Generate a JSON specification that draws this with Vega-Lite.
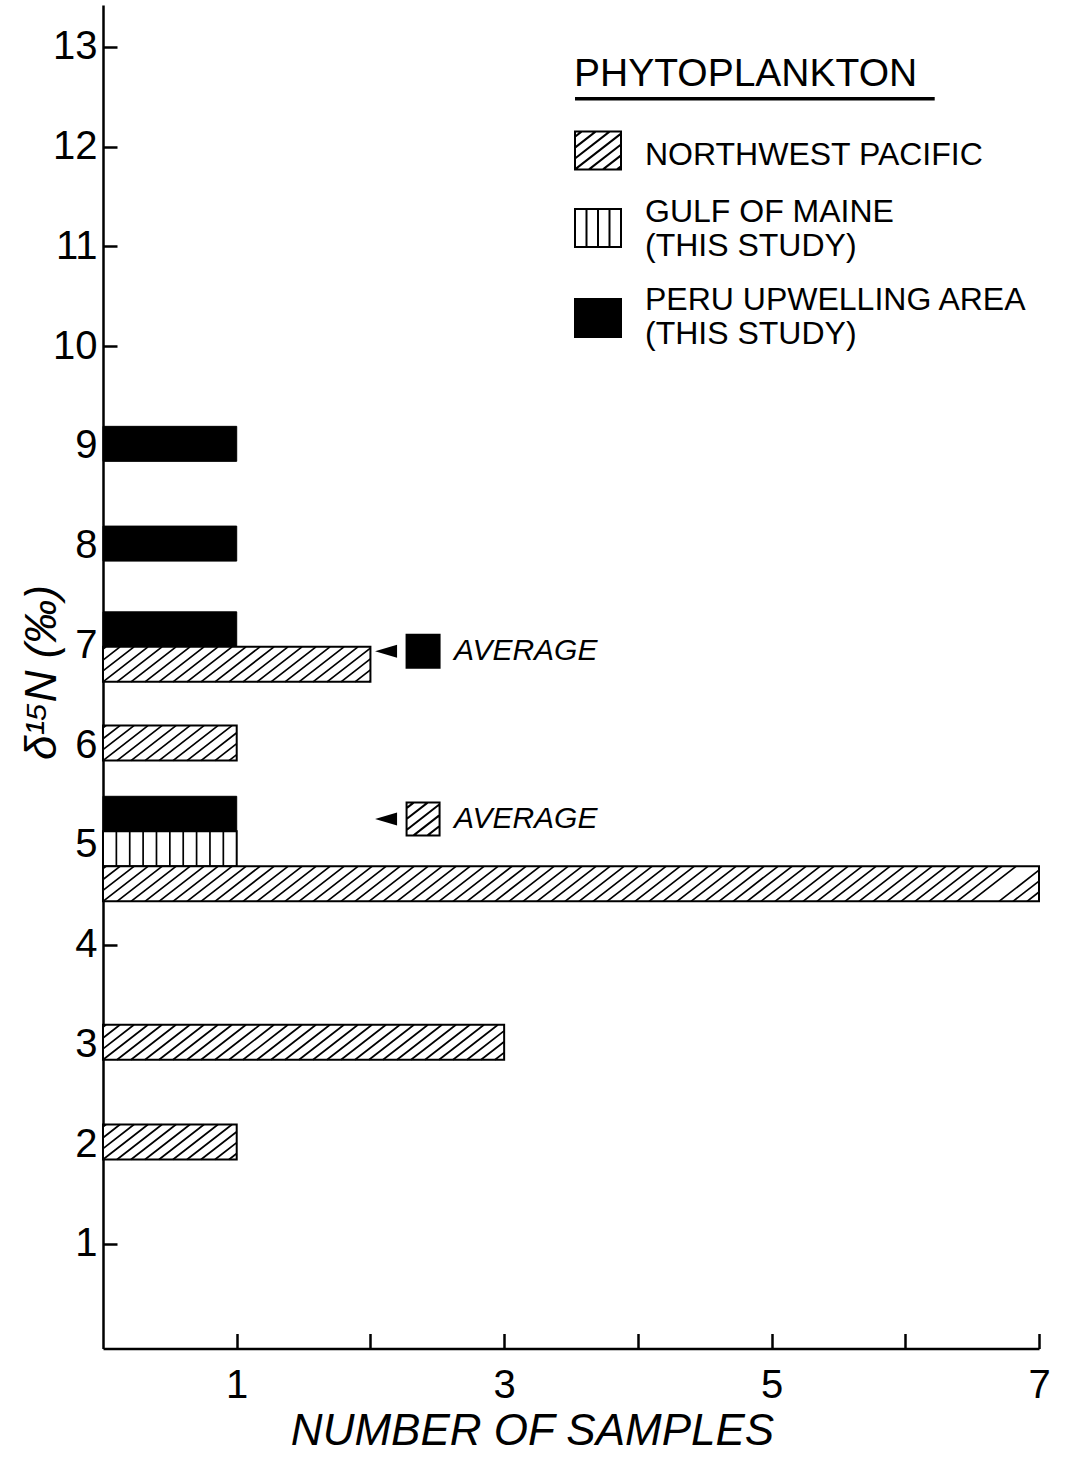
{
  "$schema": "https://vega.github.io/schema/vega-lite/v6.json",
  "width": 936,
  "height": 1343.5,
  "autosize": {"type": "none"},
  "padding": {"left": 103, "top": 5, "right": 28, "bottom": 108.5},
  "background": "white",
  "config": {
    "view": {"stroke": null},
    "font": "Liberation Sans",
    "axis": {"grid": false, "domainColor": "black", "tickColor": "black", "labelColor": "black", "titleColor": "black", "labelFont": "Liberation Sans", "titleFont": "Liberation Sans"},
    "legend": {"orient": "none", "legendX": 471, "legendY": 50, "direction": "vertical", "padding": 0,
      "titleFont": "Liberation Sans", "titleFontSize": 39, "titleFontWeight": "normal", "titleColor": "black", "titlePadding": 37, "titleLimit": 1000,
      "labelFont": "Liberation Sans", "labelFontSize": 32, "labelColor": "black", "labelOffset": 23, "labelLimit": 1000,
      "symbolSize": 2116, "symbolStrokeColor": "black", "symbolStrokeWidth": 2, "symbolOpacity": 1, "rowPadding": 14}
  },
  "data": {"values": [
    {"kind": "count", "delta": 9, "series": "PERU UPWELLING AREA (THIS STUDY)", "samples": 1},
    {"kind": "count", "delta": 8, "series": "PERU UPWELLING AREA (THIS STUDY)", "samples": 1},
    {"kind": "count", "delta": 7, "series": "PERU UPWELLING AREA (THIS STUDY)", "samples": 1},
    {"kind": "count", "delta": 7, "series": "NORTHWEST PACIFIC", "samples": 2},
    {"kind": "count", "delta": 6, "series": "NORTHWEST PACIFIC", "samples": 1},
    {"kind": "count", "delta": 5, "series": "PERU UPWELLING AREA (THIS STUDY)", "samples": 1},
    {"kind": "count", "delta": 5, "series": "GULF OF MAINE (THIS STUDY)", "samples": 1},
    {"kind": "count", "delta": 5, "series": "NORTHWEST PACIFIC", "samples": 7},
    {"kind": "count", "delta": 3, "series": "NORTHWEST PACIFIC", "samples": 3},
    {"kind": "count", "delta": 2, "series": "NORTHWEST PACIFIC", "samples": 1},
    {"kind": "average", "delta": 6.94, "series": "PERU UPWELLING AREA (THIS STUDY)", "label": "AVERAGE"},
    {"kind": "average", "delta": 5.26, "series": "NORTHWEST PACIFIC", "label": "AVERAGE"}
  ]},
  "transform": [{"joinaggregate": [{"op": "count", "as": "n"}], "groupby": ["kind", "delta"]}],
  "encoding": {
    "y": {
      "field": "delta", "type": "quantitative",
      "scale": {"domain": [0, 13.37], "nice": false, "zero": true},
      "axis": {
        "values": [1, 2, 3, 4, 5, 6, 7, 8, 9, 10, 11, 12, 13], "format": "d",
        "tickSize": -14, "tickWidth": 2.5, "domainWidth": 2.5,
        "labelFontSize": 40, "labelPadding": 20, "labelFlush": false, "labelOverlap": false, "labelBaseline": "middle",
        "title": "δ¹⁵N (‰)", "titleFontSize": 44, "titleFontStyle": "italic", "titleFontWeight": "normal",
        "titleAngle": -90, "titleX": -48, "titleY": 667, "titleAlign": "center", "titleBaseline": "alphabetic"
      }
    }
  },
  "layer": [
    {
      "transform": [{"filter": "datum.kind == 'count'"}],
      "encoding": {
        "x": {
          "field": "samples", "type": "quantitative",
          "scale": {"domain": [0, 7], "nice": false, "zero": true},
          "axis": {
            "values": [1, 2, 3, 4, 5, 6, 7], "format": "d",
            "labelExpr": "datum.value % 2 == 1 ? datum.label : ''",
            "tickSize": -15, "tickWidth": 2.5, "domainWidth": 2.5,
            "labelFontSize": 40, "labelPadding": 32, "labelFlush": false, "labelOverlap": false,
            "title": "NUMBER OF SAMPLES", "titleFontSize": 44, "titleFontStyle": "italic", "titleFontWeight": "normal",
            "titleX": 429, "titleY": 96, "titleAlign": "center", "titleBaseline": "alphabetic"
          }
        }
      },
      "layer": [
        {"transform": [{"filter": "datum.series == 'PERU UPWELLING AREA (THIS STUDY)' && datum.n == 1"}],
         "mark": {"type": "bar", "orient": "horizontal", "size": 35, "fill": "black", "stroke": "black", "strokeWidth": 1, "yOffset": -2}},
        {"transform": [{"filter": "datum.series == 'PERU UPWELLING AREA (THIS STUDY)' && datum.n == 2"}],
         "mark": {"type": "bar", "orient": "horizontal", "size": 35, "fill": "black", "stroke": "black", "strokeWidth": 1, "yOffset": -16}},
        {"transform": [{"filter": "datum.series == 'PERU UPWELLING AREA (THIS STUDY)' && datum.n == 3"}],
         "mark": {"type": "bar", "orient": "horizontal", "size": 35, "fill": "black", "stroke": "black", "strokeWidth": 1, "yOffset": -31}},
        {"transform": [{"filter": "datum.series == 'GULF OF MAINE (THIS STUDY)'"}],
         "mark": {"type": "bar", "orient": "horizontal", "size": 35, "fill": "white", "stroke": "black", "strokeWidth": 2, "yOffset": 4}},
        {"transform": [{"filter": "datum.series == 'NORTHWEST PACIFIC' && datum.n == 1"}],
         "mark": {"type": "bar", "orient": "horizontal", "size": 35, "fill": "white", "stroke": "black", "strokeWidth": 2, "yOffset": -2}},
        {"transform": [{"filter": "datum.series == 'NORTHWEST PACIFIC' && datum.n == 2"}],
         "mark": {"type": "bar", "orient": "horizontal", "size": 35, "fill": "white", "stroke": "black", "strokeWidth": 2, "yOffset": 19}},
        {"transform": [{"filter": "datum.series == 'NORTHWEST PACIFIC' && datum.n == 3"}],
         "mark": {"type": "bar", "orient": "horizontal", "size": 35, "fill": "white", "stroke": "black", "strokeWidth": 2, "yOffset": 39}}
      ]
    },
    {"transform": [{"filter": "datum.kind == 'count' && datum.series == 'NORTHWEST PACIFIC' && datum.samples == 1"}],
     "mark": {"type": "point", "filled": false, "stroke": "black", "strokeWidth": 1.7, "opacity": 1, "size": 4, "yOffset": -2,
       "shape": "M0,6.61L31,-17.5M0,-4.28L17,-17.5M0,-15.17L3,-17.5M0,17.5l45,-35m-31,35l45,-35m-31,35l45,-35m-31,35l45,-35m-31,35l45,-35m-31,35l45,-35m-31,35l45,-35M98,17.5L133.7,-10.28M112,17.5L133.7,0.61M126,17.5L133.7,11.5"},
     "encoding": {"x": {"datum": 0}}},
    {"transform": [{"filter": "datum.kind == 'count' && datum.series == 'NORTHWEST PACIFIC' && datum.samples == 2"}],
     "mark": {"type": "point", "filled": false, "stroke": "black", "strokeWidth": 1.7, "opacity": 1, "size": 4, "yOffset": 19,
       "shape": "M0,6.61L31,-17.5M0,-4.28L17,-17.5M0,-15.17L3,-17.5M0,17.5l45,-35m-31,35l45,-35m-31,35l45,-35m-31,35l45,-35m-31,35l45,-35m-31,35l45,-35m-31,35l45,-35m-31,35l45,-35m-31,35l45,-35m-31,35l45,-35m-31,35l45,-35m-31,35l45,-35m-31,35l45,-35m-31,35l45,-35m-31,35l45,-35m-31,35l45,-35M224,17.5L267.4,-16.28M238,17.5L267.4,-5.39M252,17.5L267.4,5.5M266,17.5L267.4,16.39"},
     "encoding": {"x": {"datum": 0}}},
    {"transform": [{"filter": "datum.kind == 'count' && datum.series == 'NORTHWEST PACIFIC' && datum.samples == 3"}],
     "mark": {"type": "point", "filled": false, "stroke": "black", "strokeWidth": 1.7, "opacity": 1, "size": 4, "yOffset": -2,
       "shape": "M0,6.61L31,-17.5M0,-4.28L17,-17.5M0,-15.17L3,-17.5M0,17.5l45,-35m-31,35l45,-35m-31,35l45,-35m-31,35l45,-35m-31,35l45,-35m-31,35l45,-35m-31,35l45,-35m-31,35l45,-35m-31,35l45,-35m-31,35l45,-35m-31,35l45,-35m-31,35l45,-35m-31,35l45,-35m-31,35l45,-35m-31,35l45,-35m-31,35l45,-35m-31,35l45,-35m-31,35l45,-35m-31,35l45,-35m-31,35l45,-35m-31,35l45,-35m-31,35l45,-35m-31,35l45,-35m-31,35l45,-35m-31,35l45,-35m-31,35l45,-35M364,17.5L401.1,-11.39M378,17.5L401.1,-0.5M392,17.5L401.1,10.39"},
     "encoding": {"x": {"datum": 0}}},
    {"transform": [{"filter": "datum.kind == 'count' && datum.series == 'NORTHWEST PACIFIC' && datum.samples == 7"}],
     "mark": {"type": "point", "filled": false, "stroke": "black", "strokeWidth": 1.7, "opacity": 1, "size": 4, "yOffset": 39,
       "shape": "M0,6.61L31,-17.5M0,-4.28L17,-17.5M0,-15.17L3,-17.5M0,17.5l45,-35m-31,35l45,-35m-31,35l45,-35m-31,35l45,-35m-31,35l45,-35m-31,35l45,-35m-31,35l45,-35m-31,35l45,-35m-31,35l45,-35m-31,35l45,-35m-31,35l45,-35m-31,35l45,-35m-31,35l45,-35m-31,35l45,-35m-31,35l45,-35m-31,35l45,-35m-31,35l45,-35m-31,35l45,-35m-31,35l45,-35m-31,35l45,-35m-31,35l45,-35m-31,35l45,-35m-31,35l45,-35m-31,35l45,-35m-31,35l45,-35m-31,35l45,-35m-31,35l45,-35m-31,35l45,-35m-31,35l45,-35m-31,35l45,-35m-31,35l45,-35m-31,35l45,-35m-31,35l45,-35m-31,35l45,-35m-31,35l45,-35m-31,35l45,-35m-31,35l45,-35m-31,35l45,-35m-31,35l45,-35m-31,35l45,-35m-31,35l45,-35m-31,35l45,-35m-31,35l45,-35m-31,35l45,-35m-31,35l45,-35m-31,35l45,-35m-31,35l45,-35m-31,35l45,-35m-31,35l45,-35m-31,35l45,-35m-31,35l45,-35m-31,35l45,-35m-31,35l45,-35m-31,35l45,-35m-31,35l45,-35m-31,35l45,-35m-31,35l45,-35m-31,35l45,-35m-31,35l45,-35m-31,35l45,-35m-31,35l45,-35m-31,35l45,-35m-31,35l45,-35M896,17.5L936,-13.61M910,17.5L936,-2.72M924,17.5L936,8.17"},
     "encoding": {"x": {"datum": 0}}},
    {"transform": [{"filter": "datum.kind == 'count' && datum.series == 'GULF OF MAINE (THIS STUDY)'"}],
     "mark": {"type": "point", "filled": false, "stroke": "black", "strokeWidth": 1.7, "opacity": 1, "size": 4, "yOffset": 4,
       "shape": "M13.37,-17.5v35m13.37,-35v35m13.37,-35v35m13.37,-35v35m13.37,-35v35m13.37,-35v35m13.37,-35v35m13.37,-35v35m13.37,-35v35"},
     "encoding": {"x": {"datum": 0}}},
    {"transform": [{"filter": "datum.kind == 'count'"}],
     "mark": {"type": "point", "filled": true, "size": 2116, "strokeWidth": 2, "opacity": 1, "clip": true},
     "encoding": {
       "x": {"datum": -3},
       "shape": {"field": "series", "type": "nominal",
         "scale": {"domain": ["NORTHWEST PACIFIC", "GULF OF MAINE (THIS STUDY)", "PERU UPWELLING AREA (THIS STUDY)"],
                   "range": ["M-1,-1.026H1V0.626H-1ZM-1,-0.794L-0.702,-1.026M-1,-0.321L-0.093,-1.026M-1,0.153L0.516,-1.026M-1,0.626L1,-0.93M-0.391,0.626L1,-0.456M0.217,0.626L1,0.017M0.826,0.626L1,0.491",
                             "M-1,-0.13H1V1.522H-1ZM-0.5,-0.13V1.522M0,-0.13V1.522M0.5,-0.13V1.522",
                             "M-1,-0.043H1V1.609H-1Z"]},
         "legend": {"title": "PHYTOPLANKTON", "labelExpr": "split(replace(datum.label, ' (', '|('), '|')"}},
       "fill": {"field": "series", "type": "nominal",
         "scale": {"domain": ["NORTHWEST PACIFIC", "GULF OF MAINE (THIS STUDY)", "PERU UPWELLING AREA (THIS STUDY)"],
                   "range": ["white", "white", "black"]},
         "legend": {"title": "PHYTOPLANKTON", "labelExpr": "split(replace(datum.label, ' (', '|('), '|')"}},
       "stroke": {"field": "series", "type": "nominal",
         "scale": {"domain": ["NORTHWEST PACIFIC", "GULF OF MAINE (THIS STUDY)", "PERU UPWELLING AREA (THIS STUDY)"],
                   "range": ["black", "black", "black"]},
         "legend": {"title": "PHYTOPLANKTON", "labelExpr": "split(replace(datum.label, ' (', '|('), '|')"}}
     }},
    {"transform": [{"filter": "datum.kind == 'average'"}],
     "mark": {"type": "point", "filled": true, "color": "black", "opacity": 1, "size": 4, "shape": "M-11,0L11,-6.5L11,6.5Z"},
     "encoding": {"x": {"datum": 2.117}}},
    {"transform": [{"filter": "datum.kind == 'average'"}],
     "mark": {"type": "point", "filled": true, "stroke": "black", "strokeWidth": 2, "opacity": 1, "size": 4, "xOffset": 37},
     "encoding": {
       "x": {"datum": 2.117},
       "shape": {"condition": {"test": "datum.series == 'PERU UPWELLING AREA (THIS STUDY)'", "value": "M-16.5,-16.5H16.5V16.5H-16.5Z"},
                 "value": "M-16.5,-16.5H16.5V16.5H-16.5ZM-16.5,-10.72L-9.07,-16.5M-16.5,0.17L4.93,-16.5M-16.5,11.06L16.5,-14.61M-9.5,16.5L16.5,-3.72M4.5,16.5L16.5,7.17"},
       "fill": {"condition": {"test": "datum.series == 'PERU UPWELLING AREA (THIS STUDY)'", "value": "black"}, "value": "white"}
     }},
    {"transform": [{"filter": "datum.kind == 'average'"}],
     "mark": {"type": "text", "align": "left", "baseline": "middle", "xOffset": 68, "fontSize": 30, "fontStyle": "italic", "font": "Liberation Sans", "color": "black"},
     "encoding": {"x": {"datum": 2.117}, "text": {"field": "label", "type": "nominal"}}},
    {"transform": [{"filter": "datum.kind == 'average' && datum.series == 'NORTHWEST PACIFIC'"}],
     "mark": {"type": "rule", "strokeWidth": 3.5, "color": "black"},
     "encoding": {"x": {"datum": 3.53}, "x2": {"datum": 6.22}, "y": {"datum": 12.48}}}
  ]
}
